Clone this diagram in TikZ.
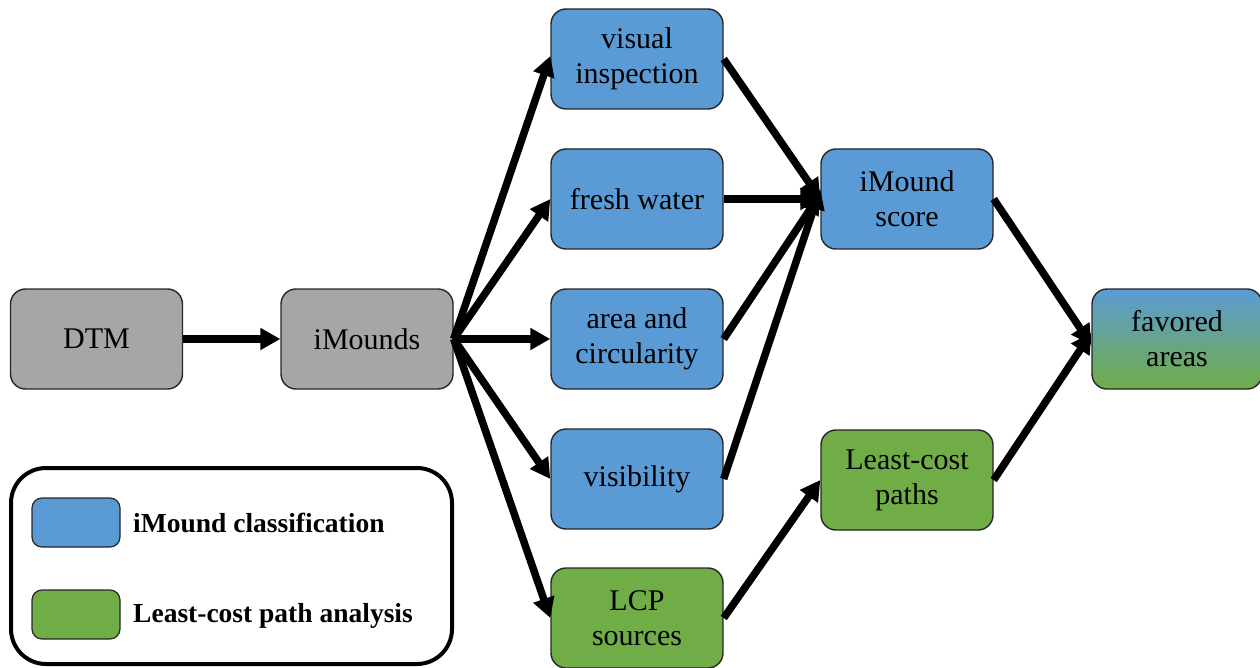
\documentclass[tikz,border=0pt]{standalone}
\usepackage{fontspec}
\setmainfont{Liberation Serif}
\usetikzlibrary{arrows.meta}
\definecolor{cblue}{HTML}{5B9BD5}
\definecolor{cgreen}{HTML}{70AD47}
\definecolor{cgray}{HTML}{A6A6A6}
\begin{document}
\begin{tikzpicture}[x=1pt,y=-1pt,
  box/.style={draw=black!85, line width=1.4pt, rounded corners=15pt, minimum width=172pt, minimum height=100pt, align=center, font=\fontsize{30}{35}\selectfont, inner sep=0pt},
  graybox/.style={box, fill=cgray},
  bluebox/.style={box, fill=cblue},
  greenbox/.style={box, fill=cgreen},
  arr/.style={line width=7.5pt, -{Triangle[length=20pt,width=21pt]}, shorten >=0pt}
]
\useasboundingbox (0,0) rectangle (1260,668);
\node[graybox] (dtm) at (96.5,339) {DTM};
\node[graybox] (imounds) at (367,339) {iMounds};
\node[bluebox] (visual) at (637,59) {visual\\inspection};
\node[bluebox] (fresh) at (637,199) {fresh water};
\node[bluebox] (area) at (637,339) {area and\\circularity};
\node[bluebox] (visib) at (637,479) {visibility};
\node[greenbox] (lcp) at (637,618) {LCP\\sources};
\node[bluebox] (score) at (907,199) {iMound\\score};
\node[greenbox] (lcpaths) at (907,480) {Least-cost\\paths};
\node[box, top color=cblue, bottom color=cgreen, middle color=cblue!50!cgreen, minimum width=170pt] (fav) at (1177,339) {favored\\areas};

\draw[arr] (dtm.east) -- (imounds.west);
\draw[arr] (imounds.east) -- ([yshift=3pt]visual.west);
\draw[arr] (imounds.east) -- (fresh.west);
\draw[arr] (imounds.east) -- (area.west);
\draw[arr] (imounds.east) -- (visib.west);
\draw[arr] (imounds.east) -- (lcp.west);
\draw[arr] (visual.east) -- (score.west);
\draw[arr] (fresh.east) -- (score.west);
\draw[arr] (area.east) -- ([yshift=5pt]score.west);
\draw[arr] (visib.east) -- ([yshift=10pt]score.west);
\draw[arr] (score.east) -- ([yshift=-6pt]fav.west);
\draw[arr] (lcpaths.east) -- ([yshift=6pt]fav.west);
\draw[arr] (lcp.east) -- (lcpaths.west);

\node[draw=black, line width=4pt, rounded corners=35pt, minimum width=441pt, minimum height=196pt, inner sep=0pt] (legend) at (231.5,566) {};
\node[draw=black!85, line width=1.2pt, fill=cblue, rounded corners=10pt, minimum width=88pt, minimum height=49pt, inner sep=0pt] (lb) at (76,522.5) {};
\node[draw=black!85, line width=1.2pt, fill=cgreen, rounded corners=10pt, minimum width=88pt, minimum height=49pt, inner sep=0pt] (lg) at (76,614.5) {};
\node[anchor=west, font=\fontsize{27.5}{32}\selectfont\bfseries, inner sep=0pt] (lbt) at (133,523) {iMound classification};
\node[anchor=west, font=\fontsize{27.5}{32}\selectfont\bfseries, inner sep=0pt] (lgt) at (133,616) {Least-cost path analysis};
\end{tikzpicture}
\end{document}
